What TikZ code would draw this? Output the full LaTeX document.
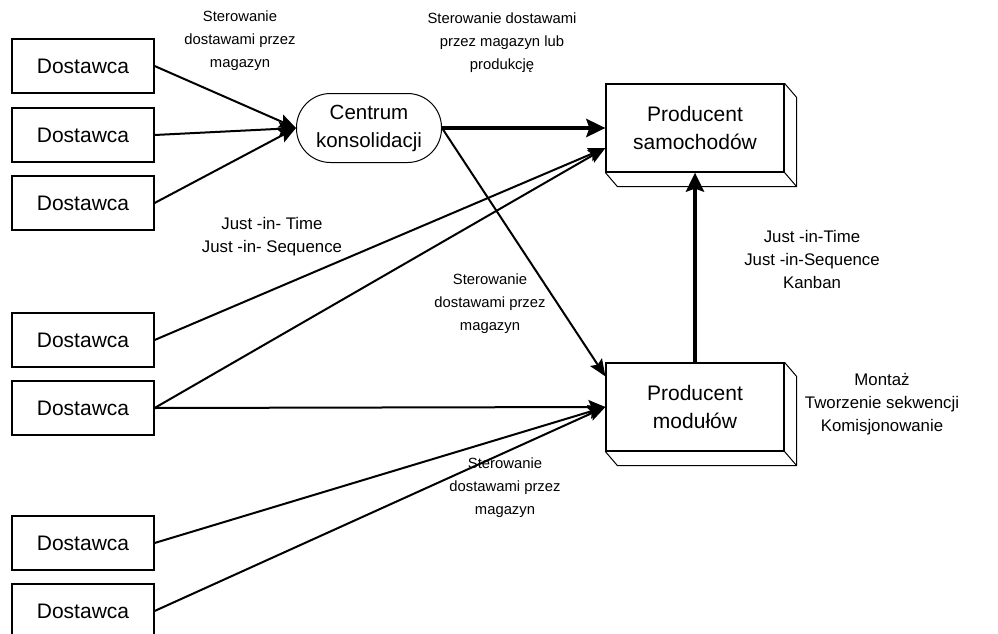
\documentclass[tikz,border=0pt]{standalone}
\usepackage{fontspec}
\setmainfont{Liberation Sans}
\usetikzlibrary{arrows.meta,calc}

\tikzset{
    dostawca/.style={draw, line width=1.2pt, minimum width=142pt, minimum height=54pt, font=\fontsize{21}{24}\selectfont},
    producent/.style={draw, line width=1.2pt, minimum width=178pt, minimum height=88pt, align=center, font=\fontsize{21}{28}\selectfont},
    centrum/.style={draw, line width=1pt, rounded corners=34pt, minimum width=145pt, minimum height=69pt, align=center, font=\fontsize{20.5}{28}\selectfont},
    opis/.style={align=center, font=\fontsize{14.8}{23}\selectfont},
    opisduzy/.style={align=center, font=\fontsize{16.8}{23}\selectfont},
    strz/.style={line width=2pt, -{Stealth[length=17pt, width=14pt, inset=3pt]}},
    gruba/.style={line width=4.5pt, -{Stealth[length=19pt, width=18pt, inset=3pt]}},
}

\begin{document}
\begin{tikzpicture}[x=1pt, y=-1pt]
            \clip (0, 0) rectangle (998, 634);

            \node[dostawca] (d1) at (83, 66) {Dostawca};
            \node[dostawca] (d2) at (83, 135) {Dostawca};
            \node[dostawca] (d3) at (83, 203) {Dostawca};
            \node[dostawca] (d4) at (83, 340) {Dostawca};
            \node[dostawca] (d5) at (83, 408) {Dostawca};
            \node[dostawca] (d6) at (83, 543) {Dostawca};
            \node[dostawca] (d7) at (83, 611) {Dostawca};

            \node[centrum] (cons) at (369, 128) {Centrum\\konsolidacji};

            \node[producent] (psam) at (695, 128) {Producent\\samochodów};
            \node[producent] (pmod) at (695, 407) {Producent\\modułów};

            \foreach \p in {psam, pmod} {
                \draw[line width=1pt] (\p.south west) -- ++(12, 14) -| ($(\p.north east)+(12, 14)$) -- (\p.north east);
                \draw[line width=1pt] (\p.south east) -- ++(12, 14);
            }

            \coordinate (psamD) at ($(psam.west)+(0, 20)$);
            \coordinate (pmodG) at ($(pmod.north west)+(0, 14)$);

            \draw[strz] (d1.east) -- (cons.west);
            \draw[strz] (d2.east) -- (cons.west);
            \draw[strz] (d3.east) -- (cons.west);

            \draw[gruba] (cons.east) -- (cons.east -| psam.west);
            \draw[strz] (cons.east) -- (pmodG);

            \draw[strz] (d4.east) -- (psamD);
            \draw[strz] (d5.east) -- (psamD);

            \draw[strz] (d5.east) -- (pmod.west);
            \draw[strz] (d6.east) -- (pmod.west);
            \draw[strz] (d7.east) -- (pmod.west);

            \draw[gruba] (pmod.north) -- (psam.south);

            \node[opis] (l1) at (240, 41) {Sterowanie\\dostawami przez\\magazyn};
            \node[opis] (l2) at (502, 43) {Sterowanie dostawami\\przez magazyn lub\\produkcję};
            \node[opisduzy] (l3) at (272, 237) {Just -in- Time\\Just -in- Sequence};
            \node[opis] (l4) at (490, 304) {Sterowanie\\dostawami przez\\magazyn};
            \node[opisduzy] (l5) at (812, 259) {Just -in-Time\\Just -in-Sequence\\Kanban};
            \node[opisduzy] (l6) at (882, 404) {Montaż\\Tworzenie sekwencji\\Komisjonowanie};
            \node[opis] (l7) at (505, 488) {Sterowanie\\dostawami przez\\magazyn};
        \end{tikzpicture}
\end{document}
